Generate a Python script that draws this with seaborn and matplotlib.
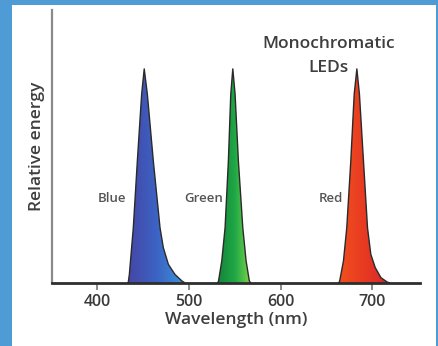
import numpy as np
import pandas as pd
import matplotlib
matplotlib.use("Agg")
import matplotlib.pyplot as plt
from matplotlib.patches import Rectangle
from matplotlib.colors import LinearSegmentedColormap
import seaborn as sns

# ---- data ----
blue_wl = [434, 435.3, 439.6, 444.0, 448.7, 451.5, 454.9, 461.4, 468.7, 472.3, 477.8, 485.0, 492.4, 496]
blue_e = [0, 0.04, 0.258, 0.57, 0.882, 1.0, 0.882, 0.57, 0.258, 0.165, 0.087, 0.04, 0.01, 0]

green_wl = [531.5, 532.5, 536.0, 539.6, 543.2, 545.8, 548.0, 550.5, 554.1, 558.9, 562.5, 566.0, 567.5]
green_e = [0, 0.01, 0.103, 0.258, 0.57, 0.882, 1.0, 0.882, 0.57, 0.258, 0.103, 0.01, 0]

red_wl = [663.5, 664.5, 668.6, 672.2, 676.6, 680.3, 683.2, 686.0, 690.4, 694.8, 698.4, 703.2, 709.4, 716.0, 719]
red_e = [0, 0.01, 0.103, 0.258, 0.57, 0.882, 1.0, 0.882, 0.57, 0.258, 0.134, 0.072, 0.025, 0.005, 0]

led_names = ["Blue", "Green", "Red"]
x_ticks = [400, 500, 600, 700]

sns.set_theme(style="white")
plt.rcParams["font.family"] = ["Open Sans", "DejaVu Sans"]

fig = plt.figure(figsize=(4.38, 3.46), dpi=100)
fig.patch.set_facecolor("#4f9bd6")
fig.add_artist(Rectangle((12 / 438, 0), (436 - 12) / 438, (346 - 5) / 346,
                         transform=fig.transFigure, facecolor="white",
                         edgecolor="none", zorder=0))

ax = fig.add_axes([52 / 438, (346 - 283) / 346, (420 - 52) / 438, (283 - 10) / 346])
ax.set_facecolor("none")

series = [
    (blue_wl, blue_e, ["#4646a6", "#3b63c4", "#3c93da"]),
    (green_wl, green_e, ["#16843a", "#1fa845", "#86d84a"]),
    (red_wl, red_e, ["#f0501e", "#e83a22", "#d4262c"]),
]

frames = []
for name, (wl, e, cols) in zip(led_names, series):
    frames.append(pd.DataFrame({"wl": wl, "e": e, "led": name}))
    poly = ax.fill_between(wl, e, 0, facecolor="none", edgecolor="none")
    cmap = LinearSegmentedColormap.from_list(name, cols)
    grad = np.linspace(0, 1, 256).reshape(1, -1)
    im = ax.imshow(grad, cmap=cmap, aspect="auto",
                   extent=[min(wl), max(wl), 0, max(e)], origin="lower", zorder=2)
    im.set_clip_path(poly.get_paths()[0], transform=ax.transData)

df = pd.concat(frames, ignore_index=True)
sns.lineplot(data=df, x="wl", y="e", units="led", estimator=None, sort=False,
             color="#2a2a2a", linewidth=1.0, ax=ax, zorder=3, legend=False)

ax.set_xlim(351, 752)
ax.set_ylim(0, 1.275)
ax.set_xticks(x_ticks)
ax.set_xticklabels([str(t) for t in x_ticks], fontsize=11.5, color="#3a3a3a",
                   fontweight="semibold")
ax.set_yticks([])
ax.tick_params(axis="x", direction="out", length=5, width=1.2, color="#777777", pad=3, bottom=True)

for side in ["top", "right"]:
    ax.spines[side].set_visible(False)
ax.spines["left"].set_color("#8a8a8a")
ax.spines["left"].set_linewidth(1.6)
ax.spines["bottom"].set_color("#2e2e2e")
ax.spines["bottom"].set_linewidth(2.0)

ax.set_xlabel("Wavelength (nm)", fontsize=12.5, color="#3e3e3e", labelpad=1,
              fontweight="semibold")
ax.set_ylabel("Relative energy", fontsize=12.5, color="#3e3e3e", labelpad=5,
              fontweight="semibold")

label_pos = [(416.5, 0.393), (516.7, 0.393), (655.2, 0.393)]
for name, (x, y) in zip(led_names, label_pos):
    ax.text(x, y, name, fontsize=9.5, color="#555555", ha="center", va="center",
            fontweight="semibold", zorder=4)

ax.text(652, 1.117, "Monochromatic", fontsize=12.5, color="#3e3e3e", ha="center",
        va="center", fontweight="semibold")
ax.text(652, 1.005, "LEDs", fontsize=12.5, color="#3e3e3e", ha="center",
        va="center", fontweight="semibold")

fig.savefig("out.png", dpi=100)
